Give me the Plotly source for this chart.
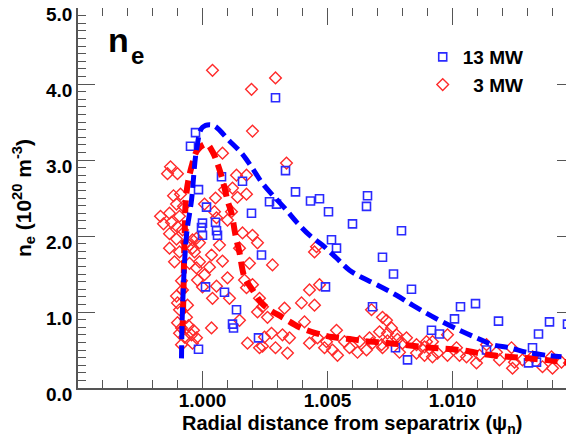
import plotly.graph_objects as go

# 13 MW data (blue squares)
x_13mw = [1.00292, 0.99972, 0.99952, 0.99984, 1.00076, 1.00160, 1.00016, 1.00196, 1.00268, 1.00296,
          1.00332, 1.00372, 1.00432, 1.00468, 1.00504, 1.00660, 1.00656, 1.00600, 1.00796, 1.00000,
          1.00052, 0.99996, 1.00056, 1.00000, 1.00060, 1.00236, 1.00012, 1.00088, 1.00136, 1.00120,
          1.00124, 1.00224, 0.99984, 1.00492, 1.00516, 1.00536, 1.00720, 1.00764, 1.00836, 1.00680,
          1.00916, 1.00948, 1.01008, 1.01032, 1.01092, 1.01184, 1.01388, 1.01460, 1.01344, 1.01320,
          1.01136, 1.00772, 1.00820, 1.01304, 1.01336]
y_13mw = [3.82, 3.36, 3.18, 2.61, 2.78, 2.72, 2.38, 2.30, 2.45, 2.42,
          2.86, 2.58, 2.46, 2.49, 2.32, 2.53, 2.39, 2.16, 2.07, 2.17,
          2.18, 2.11, 2.07, 2.01, 2.01, 1.75, 1.33, 1.26, 1.03, 0.84,
          0.79, 0.66, 0.51, 1.33, 1.95, 1.84, 1.72, 1.50, 1.30, 1.07,
          0.76, 0.71, 0.91, 1.07, 1.11, 0.88, 0.87, 0.84, 0.71, 0.53,
          0.50, 0.53, 0.37, 0.33, 0.34]

# 3 MW data (red diamonds)
x_3mw = [0.99872, 0.99860, 0.99900, 0.99884, 0.99912, 0.99896, 0.99924, 0.99832, 0.99868, 0.99908,
         0.99876, 0.99844, 0.99900, 0.99920, 0.99868, 0.99896, 0.99936, 0.99960, 0.99988, 0.99960,
         0.99868, 0.99908, 0.99948, 0.99976, 0.99968, 0.99988, 0.99976, 0.99980, 0.99916, 0.99920,
         0.99896, 0.99900, 0.99940, 0.99908, 0.99936, 0.99900, 0.99916, 0.99944, 0.99964, 0.99908,
         0.99928, 0.99956, 0.99976, 0.99960, 0.99916, 0.99888, 0.99948,
         1.00040, 1.00196, 1.00292, 1.00200, 1.00336, 1.00080, 1.00136, 1.00176, 1.00120, 1.00088,
         1.00176, 1.00140, 1.00052, 1.00008, 1.00048, 1.00056, 1.00100, 1.00116, 1.00160, 1.00200,
         1.00220, 1.00148, 1.00068, 1.00036, 1.00080, 1.00280, 1.00028, 1.00008, 1.00000, 1.00056,
         1.00040, 1.00100, 1.00108, 1.00148, 1.00036, 1.00176, 1.00228, 1.00240, 1.00220, 1.00260,
         1.00328, 1.00276, 1.00320, 1.00348, 1.00180, 1.00240, 1.00292, 1.00340, 1.00188, 1.00168,
         1.00200, 1.00248, 1.00228,
         1.00456, 1.00448, 1.00428, 1.00468, 1.00396, 1.00448, 1.00408, 1.00428, 1.00460, 1.00496,
         1.00488, 1.00520, 1.00540, 1.00536, 1.00568, 1.00588, 1.00620, 1.00656, 1.00680, 1.00676,
         1.00736, 1.00708, 1.00740, 1.00776, 1.00780, 1.00740, 1.00816, 1.00856, 1.00888, 1.00856,
         1.00888, 1.00920, 1.00896, 1.00628, 1.00668, 1.00716,
         1.00756, 1.00800, 1.00720, 1.00788, 1.00920, 1.00980, 1.00940, 1.00980, 1.01016, 1.01056,
         1.01096, 1.01108, 1.01136, 1.01176, 1.01188, 1.01240, 1.01248, 1.01280, 1.01320, 1.01360,
         1.01400, 1.01396, 1.01436, 1.01468, 1.01236, 1.01028, 1.00720]
y_3mw = [2.91, 2.82, 2.82, 2.53, 2.55, 2.42, 2.39, 2.26, 2.30, 2.26,
         2.18, 2.16, 2.12, 2.08, 2.03, 1.96, 1.91, 1.95, 1.91, 1.84,
         1.84, 1.79, 1.88, 1.97, 1.79, 1.66, 1.58, 1.42, 1.41, 1.29,
         1.21, 1.12, 1.09, 1.03, 0.93, 0.86, 0.79, 0.82, 0.76, 0.72,
         0.67, 0.70, 0.66, 0.59, 0.57, 1.66, 1.64,
         4.18, 3.93, 4.08, 3.38, 2.96, 3.09, 2.80, 2.80, 2.63, 2.61,
         2.55, 2.51, 2.50, 2.42, 2.32, 2.24, 2.21, 2.32, 2.04, 2.01,
         1.91, 1.84, 1.88, 1.75, 1.67, 1.62, 1.59, 1.49, 1.33, 1.34,
         1.18, 1.45, 1.18, 0.89, 0.79, 1.32, 1.18, 1.07, 1.00, 0.93,
         1.05, 0.72, 0.70, 0.66, 0.59, 0.55, 0.53, 0.46, 1.64, 1.42,
         1.36, 0.67, 0.53,
         1.86, 1.79, 1.29, 1.36, 1.12, 1.09, 0.87, 0.59, 0.66, 0.61,
         0.53, 0.50, 0.43, 0.76, 0.61, 0.53, 0.47, 0.50, 0.59, 1.03,
         0.89, 0.74, 0.72, 0.70, 0.64, 0.62, 0.66, 0.57, 0.54, 0.46,
         0.43, 0.41, 0.61, 0.61, 0.66, 0.57,
         0.79, 0.59, 0.53, 0.47, 0.61, 0.70, 0.46, 0.43, 0.53, 0.41,
         0.33, 0.43, 0.57, 0.47, 0.37, 0.26, 0.34, 0.37, 0.41, 0.28,
         0.26, 0.41, 0.34, 0.33, 0.53, 0.43, 0.93]

# fitted profiles
fit_x_13mw = [0.99916, 0.99920, 0.99936, 0.99956, 0.99976, 1.00000, 1.00040, 1.00108, 1.00156, 1.00196,
              1.00236, 1.00280, 1.00328, 1.00380, 1.00428, 1.00480, 1.00536, 1.00588, 1.00640, 1.00696,
              1.00776, 1.00840, 1.00948, 1.01028, 1.01096, 1.01160, 1.01228, 1.01296, 1.01376, 1.01436]
fit_y_13mw = [0.39, 1.03, 2.01, 2.47, 3.13, 3.43, 3.46, 3.25, 3.09, 2.91,
              2.71, 2.54, 2.37, 2.17, 2.01, 1.88, 1.71, 1.55, 1.45, 1.36,
              1.22, 1.09, 0.89, 0.76, 0.66, 0.57, 0.53, 0.47, 0.43, 0.41]
fit_x_3mw = [0.99920, 0.99924, 0.99928, 0.99936, 0.99956, 0.99980, 1.00016, 1.00040, 1.00060, 1.00080,
             1.00100, 1.00116, 1.00132, 1.00148, 1.00168, 1.00200, 1.00236, 1.00268, 1.00320, 1.00388,
             1.00456, 1.00520, 1.00600, 1.00668, 1.00748, 1.00880, 1.01028, 1.01160, 1.01308, 1.01456]
fit_y_3mw = [0.72, 1.29, 1.95, 2.57, 2.91, 3.13, 3.21, 3.11, 2.95, 2.74,
             2.47, 2.30, 2.01, 1.78, 1.46, 1.29, 1.12, 1.03, 0.93, 0.80,
             0.72, 0.67, 0.64, 0.61, 0.59, 0.54, 0.50, 0.43, 0.39, 0.34]

font = "Liberation Sans"

fig = go.Figure()

fig.add_trace(go.Scatter(
    x=x_3mw, y=y_3mw, mode="markers", name="\u20073 MW", legendrank=2,
    legendgroup="b",
    marker=dict(symbol="diamond-open", size=9, color="#ff2a2a", line=dict(width=1.4))
))
fig.add_trace(go.Scatter(
    x=x_13mw, y=y_13mw, mode="markers", name="13 MW", legendrank=1,
    legendgroup="a",
    marker=dict(symbol="square-open", size=8, color="#2a2aff", line=dict(width=1.6))
))
fig.add_trace(go.Scatter(
    x=fit_x_3mw, y=fit_y_3mw, mode="lines", showlegend=False,
    line=dict(color="#ff0000", width=6, dash="13px,7px", shape="spline")
))
fig.add_trace(go.Scatter(
    x=fit_x_13mw, y=fit_y_13mw, mode="lines", showlegend=False,
    line=dict(color="#0000ff", width=5, dash="13px,6px", shape="spline")
))

axis_common = dict(
    showgrid=False, zeroline=False, showline=True, linecolor="#555", linewidth=1.5,
    ticks="inside", ticklen=17, tickcolor="#555", tickwidth=1, mirror="ticks",
    tickfont=dict(family=font, size=19, color="black", weight="bold"),
    ticklabeloverflow="allow", automargin=False,
)

fig.update_xaxes(
    **axis_common,
    range=[0.99502, 1.01486],
    tick0=1.0, dtick=0.005, tickformat=".3f",
    ticklabelstandoff=-6,
    minor=dict(dtick=0.001, tick0=1.0, ticks="inside", ticklen=8, tickcolor="#555", tickwidth=1),
)
fig.update_yaxes(
    **axis_common,
    range=[0, 5], dtick=1, tickformat=".1f",
    ticklabelshift=6,
    minor=dict(dtick=0.1, ticks="inside", ticklen=8, tickcolor="#555", tickwidth=1),
    title=dict(text="n<sub>e</sub> (10<sup>20</sup> m<sup>-3</sup>)",
               font=dict(family=font, size=21, color="black", weight="bold"), standoff=9),
)

# x title sits right of centre in the original, so it is placed as an annotation
fig.add_annotation(
    x=0.552, y=-0.095, xref="paper", yref="paper", xanchor="center", yanchor="middle",
    text="Radial distance from separatrix (ψ<sub>n</sub>)", showarrow=False,
    font=dict(family=font, size=20, color="black", weight="bold"),
)

# big "n_e" label, drawn as two pieces so the subscript sits low like the original
fig.add_annotation(
    x=0.056, y=0.916, xref="paper", yref="paper", xanchor="left", yanchor="middle",
    text="n", showarrow=False,
    font=dict(family=font, size=34, color="black", weight="bold"),
)
fig.add_annotation(
    x=0.103, y=0.874, xref="paper", yref="paper", xanchor="left", yanchor="middle",
    text="e", showarrow=False,
    font=dict(family=font, size=24, color="black", weight="bold"),
)

# the page body adds an 8px offset, so the figure is 8px smaller and margins are shifted
fig.update_layout(
    width=566, height=433,
    margin=dict(l=70, r=0, t=0, b=53),
    plot_bgcolor="white", paper_bgcolor="white",
    legend=dict(x=0.695, y=0.921, xanchor="left", yanchor="top", bgcolor="rgba(0,0,0,0)",
                traceorder="grouped", tracegroupgap=0,
                font=dict(family=font, size=19, color="black", weight="bold")),
)

fig.write_html("out.html")
